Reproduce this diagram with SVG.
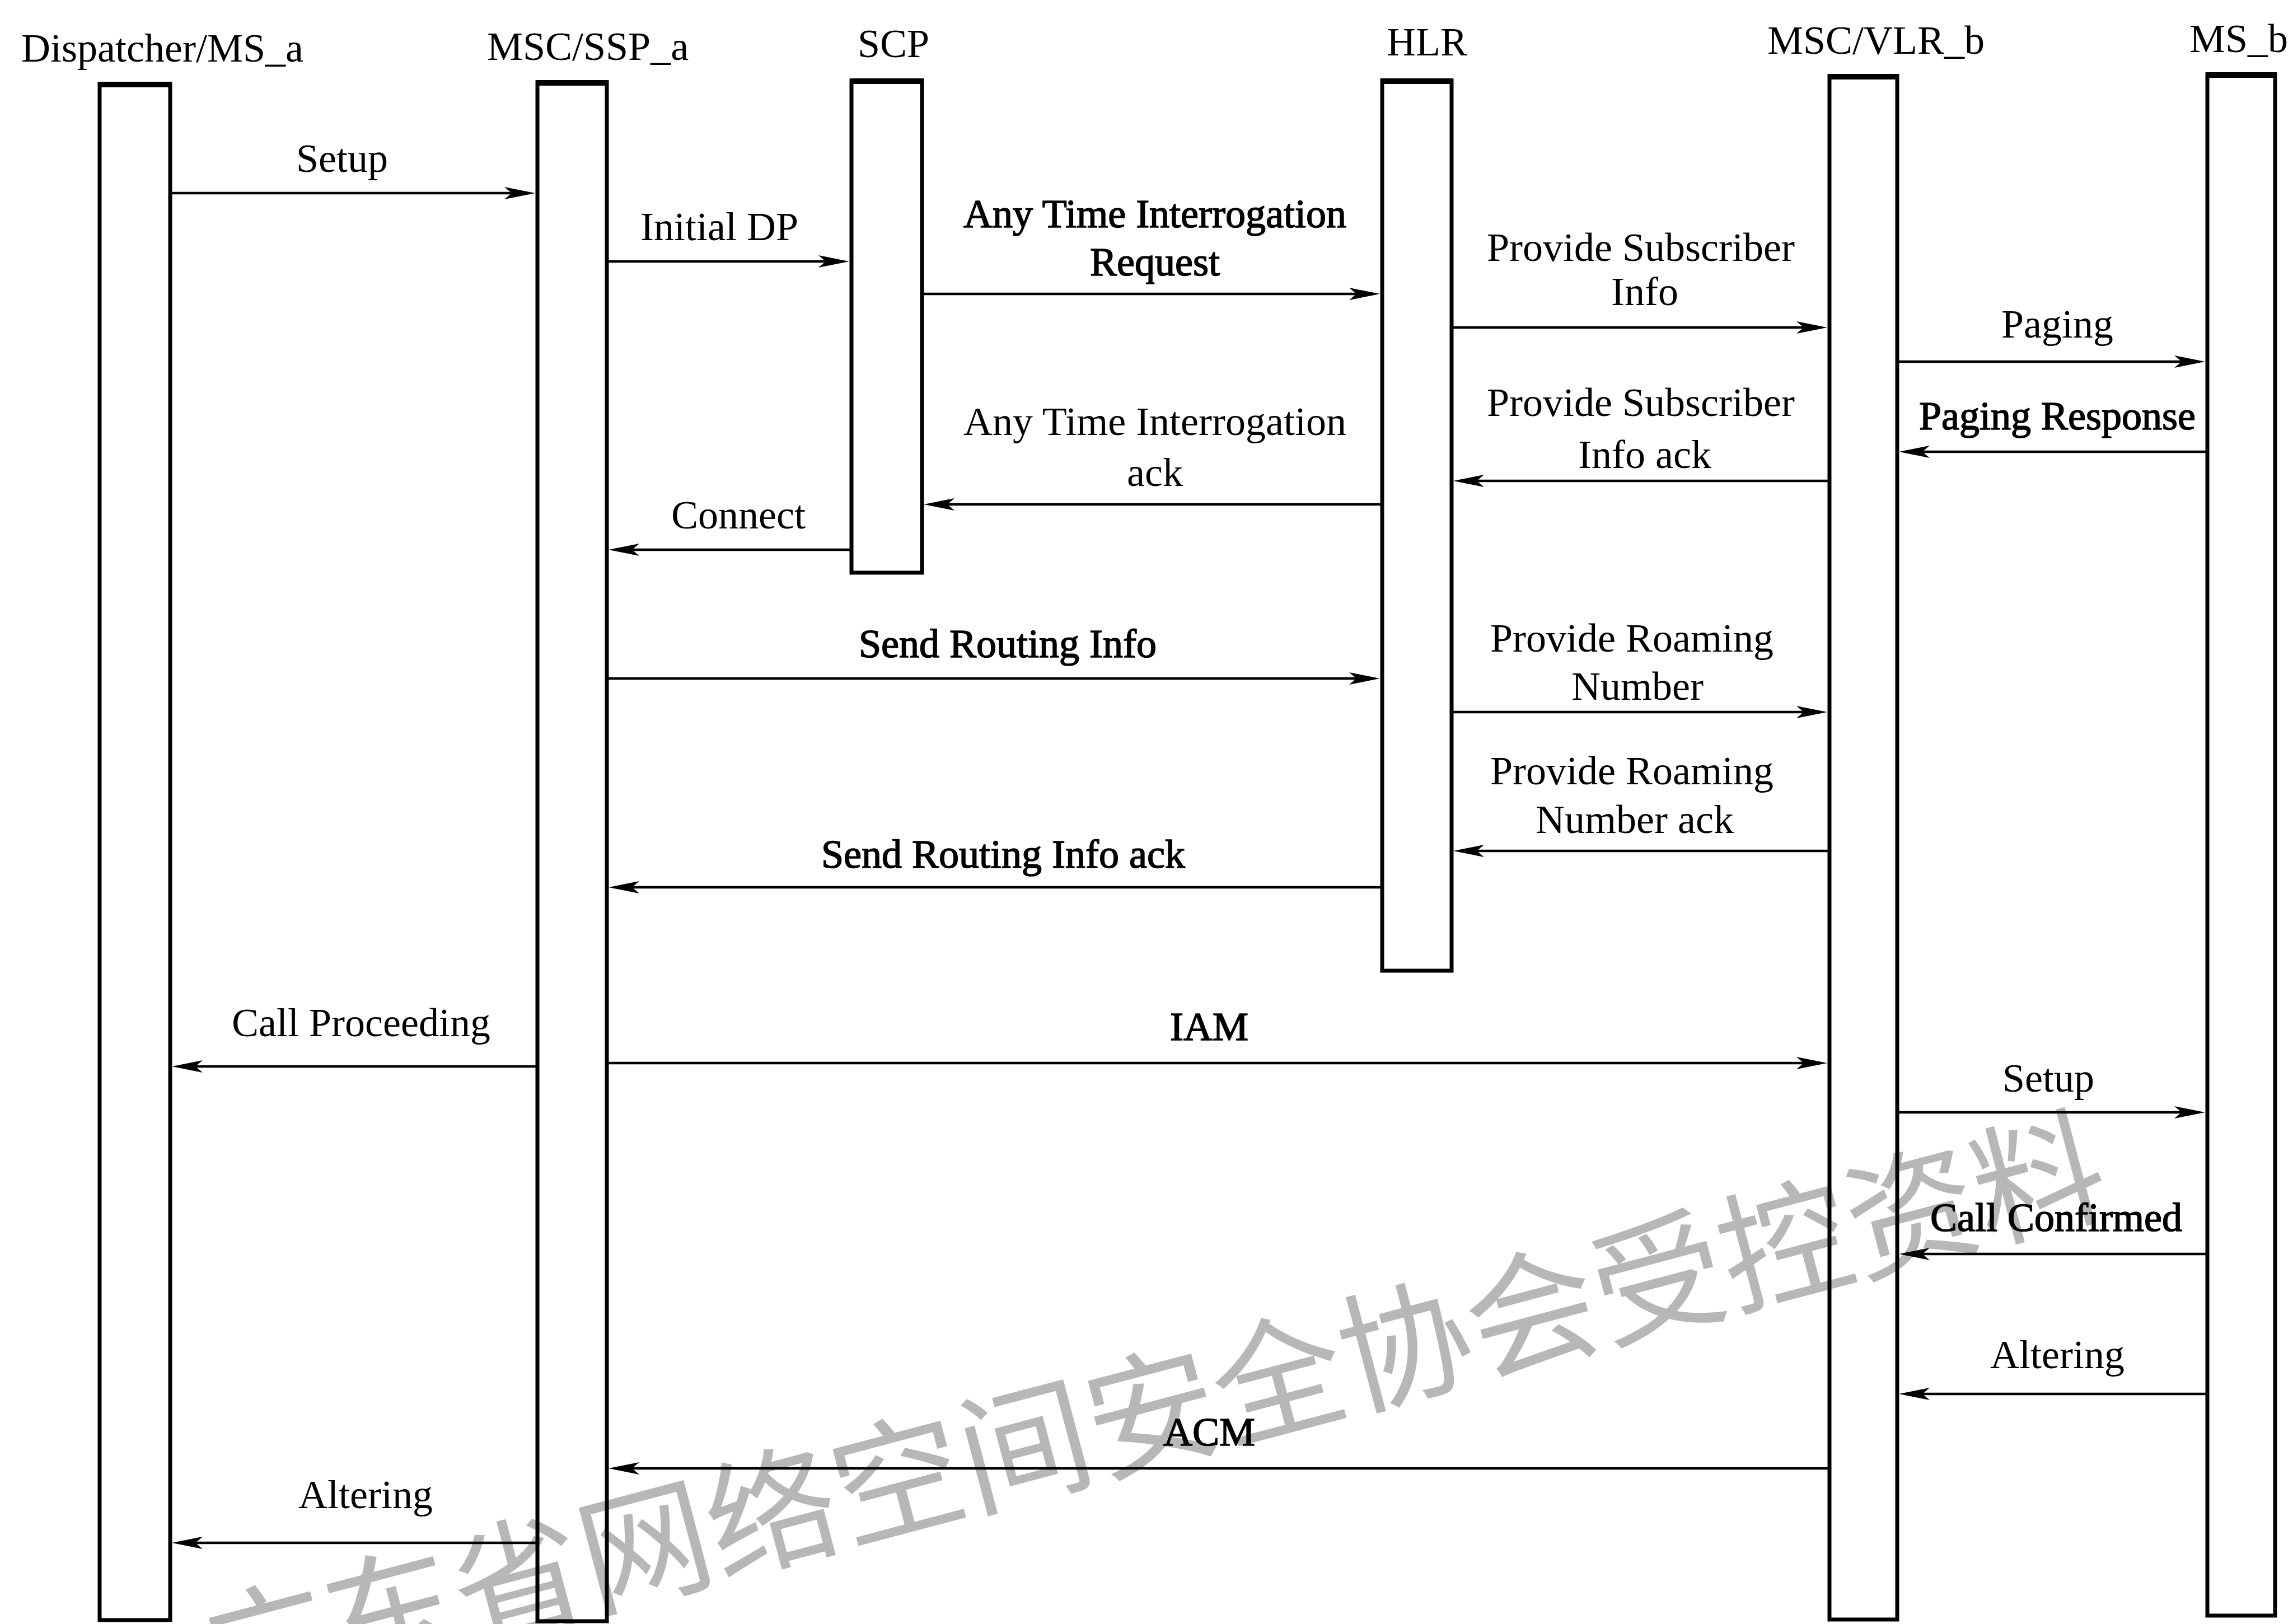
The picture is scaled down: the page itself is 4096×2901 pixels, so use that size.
<svg xmlns="http://www.w3.org/2000/svg" width="4096" height="2901" viewBox="0 0 4096 2901">
<style>
.bg{fill:#ffffff}
.box{fill:none;stroke:#000;stroke-width:7}
.cap{stroke:#000;stroke-width:10}
.hdr{font-family:"Liberation Serif","Times New Roman",serif;font-size:72px;fill:#000;text-anchor:middle}
.lbl{font-family:"Liberation Serif","Times New Roman",serif;font-size:72px;fill:#000;text-anchor:middle}
.heavy{stroke:#000;stroke-width:1.6}
.msg{stroke:#000;stroke-width:4.5;fill:none;marker-end:url(#ah)}
.wm{font-family:"Noto Sans CJK SC","Noto Sans",sans-serif;font-size:234px;fill:#b7b7b7}
</style>
<defs>
<marker id="ah" markerUnits="userSpaceOnUse" markerWidth="70" markerHeight="30" viewBox="-58 -15 70 30" refX="-12" refY="0" orient="auto">
<path d="M0,0 L-55,-11 L-42,0 L-55,11 Z" fill="#000"/>
</marker>
</defs>
<rect class="bg" x="0" y="0" width="4096" height="2901"/>

<g id="watermark">
<text class="wm" transform="translate(356,2956) rotate(-14.8)" dominant-baseline="central">广东省网络空间安全协会受控资料</text>
</g>

<g id="node-dispatcher">
<text class="hdr" x="290" y="110">Dispatcher/MS_a</text>
<rect class="box" x="178" y="150" width="126" height="2744"/>
<line class="cap" x1="175" y1="151" x2="307" y2="151"/>
</g>
<g id="node-msc-ssp">
<text class="hdr" x="1050" y="107">MSC/SSP_a</text>
<rect class="box" x="960" y="147" width="124" height="2749"/>
<line class="cap" x1="957" y1="148" x2="1087" y2="148"/>
</g>
<g id="node-scp">
<text class="hdr" x="1596" y="102">SCP</text>
<rect class="box" x="1521" y="144" width="126" height="879"/>
<line class="cap" x1="1518" y1="145" x2="1650" y2="145"/>
</g>
<g id="node-hlr">
<text class="hdr" x="2549" y="99">HLR</text>
<rect class="box" x="2469" y="144" width="124" height="1590"/>
<line class="cap" x1="2466" y1="145" x2="2596" y2="145"/>
</g>
<g id="node-msc-vlr">
<text class="hdr" x="3351" y="96">MSC/VLR_b</text>
<rect class="box" x="3268" y="136" width="121" height="2757"/>
<line class="cap" x1="3265" y1="137" x2="3392" y2="137"/>
</g>
<g id="node-ms-b">
<text class="hdr" x="3999" y="93">MS_b</text>
<rect class="box" x="3943" y="133" width="121" height="2753"/>
<line class="cap" x1="3940" y1="134" x2="4067" y2="134"/>
</g>

<g id="connectors">
<line class="msg" x1="307" y1="345" x2="944" y2="345"/>
<line class="msg" x1="1087" y1="467" x2="1505" y2="467"/>
<line class="msg" x1="1650" y1="525" x2="2453" y2="525"/>
<line class="msg" x1="2596" y1="585" x2="3252" y2="585"/>
<line class="msg" x1="3392" y1="646" x2="3927" y2="646"/>
<line class="msg" x1="3940" y1="807" x2="3404" y2="807"/>
<line class="msg" x1="3265" y1="859" x2="2608" y2="859"/>
<line class="msg" x1="2466" y1="901" x2="1662" y2="901"/>
<line class="msg" x1="1518" y1="982" x2="1099" y2="982"/>
<line class="msg" x1="1087" y1="1212" x2="2453" y2="1212"/>
<line class="msg" x1="2596" y1="1272" x2="3252" y2="1272"/>
<line class="msg" x1="3265" y1="1520" x2="2608" y2="1520"/>
<line class="msg" x1="2466" y1="1585" x2="1099" y2="1585"/>
<line class="msg" x1="957" y1="1905" x2="319" y2="1905"/>
<line class="msg" x1="1087" y1="1899" x2="3252" y2="1899"/>
<line class="msg" x1="3392" y1="1987" x2="3927" y2="1987"/>
<line class="msg" x1="3940" y1="2240" x2="3404" y2="2240"/>
<line class="msg" x1="3940" y1="2490" x2="3404" y2="2490"/>
<line class="msg" x1="3265" y1="2623" x2="1099" y2="2623"/>
<line class="msg" x1="957" y1="2756" x2="319" y2="2756"/>
</g>

<g id="labels">
<text class="lbl" x="611" y="307">Setup</text>
<text class="lbl" x="1285" y="429">Initial DP</text>
<text class="lbl heavy" x="2063" y="406">Any Time Interrogation</text>
<text class="lbl heavy" x="2063" y="492">Request</text>
<text class="lbl" x="2931" y="466">Provide Subscriber</text>
<text class="lbl" x="2938" y="545">Info</text>
<text class="lbl" x="3675" y="603">Paging</text>
<text class="lbl" x="2063" y="777">Any Time Interrogation</text>
<text class="lbl" x="2063" y="868">ack</text>
<text class="lbl" x="2931" y="743">Provide Subscriber</text>
<text class="lbl" x="2938" y="836">Info ack</text>
<text class="lbl heavy" x="3675" y="767">Paging Response</text>
<text class="lbl" x="1319" y="944">Connect</text>
<text class="lbl heavy" x="1800" y="1174">Send Routing Info</text>
<text class="lbl" x="2915" y="1164">Provide Roaming</text>
<text class="lbl" x="2925" y="1250">Number</text>
<text class="lbl" x="2915" y="1401">Provide Roaming</text>
<text class="lbl" x="2920" y="1488">Number ack</text>
<text class="lbl heavy" x="1792" y="1550">Send Routing Info ack</text>
<text class="lbl" x="645" y="1851">Call Proceeding</text>
<text class="lbl heavy" x="2160" y="1858">IAM</text>
<text class="lbl" x="3659" y="1950">Setup</text>
<text class="lbl heavy" x="3673" y="2199">Call Confirmed</text>
<text class="lbl" x="3675" y="2444">Altering</text>
<text class="lbl heavy" x="2160" y="2582">ACM</text>
<text class="lbl" x="653" y="2694">Altering</text>
</g>
</svg>
